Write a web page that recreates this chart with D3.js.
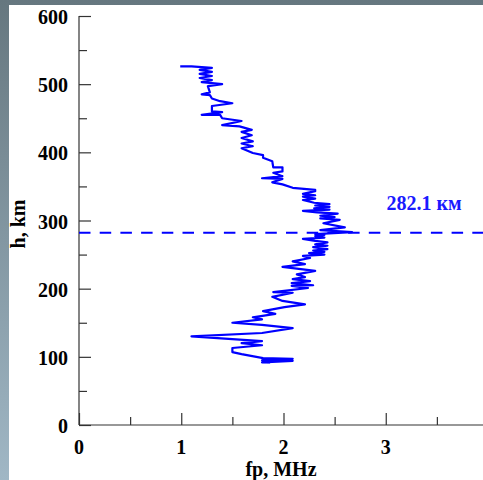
<!DOCTYPE html>
<html lang="en">
	<head>
		<meta charset="utf-8">
		<title>Plasma frequency profile</title>
		<script type="text/javascript" src="https://d3js.org/d3.v7.min.js"></script>
		<style>
			body { margin: 0; padding: 0; }
			svg { display: block; }
			text { font-family: "Liberation Serif", "Times New Roman", serif; font-weight: bold; }
		</style>
	</head>
	<body>
		<svg></svg>
		<script type="text/javascript">
			var width = 483;
			var height = 480;

			// Profile, bottom to top (fp in MHz, h in km)
			var fp = [1.87, 1.79, 2.09, 1.79, 2.09, 1.80, 1.59, 1.50, 1.50, 1.79,
				1.59, 1.79, 1.10, 1.79, 2.09, 1.79, 1.50, 1.79, 1.70, 1.92,
				1.80, 2.01, 2.21, 1.99, 1.89, 2.09, 1.90, 2.24, 2.08, 2.29,
				2.08, 2.26, 2.09, 2.21, 2.13, 2.31, 1.99, 2.21, 2.09, 2.26,
				2.19, 2.40, 2.25, 2.40, 2.29, 2.43, 2.29, 2.43, 2.31, 2.43,
				2.31, 2.19, 2.40, 2.31, 2.40, 2.31, 2.67,
				2.36, 2.60, 2.39, 2.55, 2.36, 2.50, 2.36, 2.53, 2.33, 2.19,
				2.45, 2.30, 2.45, 2.31, 2.45, 2.30, 2.19, 2.31, 2.19, 2.31,
				2.19, 2.31, 2.31, 2.09, 1.99, 1.89, 1.99, 1.79, 1.99,
				1.90, 1.99, 1.99, 1.90, 1.89, 1.80, 1.80, 1.70, 1.59, 1.70,
				1.59, 1.70, 1.59, 1.69, 1.59, 1.69, 1.57, 1.40, 1.59, 1.40,
				1.38, 1.20, 1.40, 1.30, 1.30, 1.50, 1.38, 1.30, 1.28, 1.20,
				1.28, 1.26, 1.40, 1.20, 1.30, 1.18, 1.30, 1.18, 1.30, 1.18,
				1.30, 1.10, 0.99];
			var h = [91, 92, 94, 95, 97, 98, 104, 107, 113, 117,
				120, 123, 130, 135, 142, 147, 150, 155, 158, 163,
				167, 173, 177, 182, 188, 194, 195, 201, 204, 205,
				208, 211, 214, 217, 221, 226, 232, 236, 240, 245,
				248, 250, 252, 254, 256, 258, 261, 263, 265, 268,
				270, 273, 275, 277, 279, 280, 283,
				286, 290, 296, 301, 303, 305, 307, 310, 312, 314,
				316, 318, 320, 322, 324, 326, 330, 332, 335, 337,
				339, 343, 345, 348, 353, 356, 361, 362, 365,
				370, 372, 378, 378, 387, 392, 396, 399, 406, 409,
				413, 416, 421, 425, 430, 433, 438, 440, 446, 450,
				455, 455, 459, 460, 468, 472, 475, 479, 484, 485,
				488, 497, 500, 503, 506, 509, 512, 515, 518, 521,
				524, 526, 526];

			// Peak height marker
			var peakHeight = 282.1;
			var peakLabel = "282.1 км";

			// Tick labels
			var xTicks = [0, 1, 2, 3, 4];
			var xMinor = [0.5, 1.5, 2.5, 3.5];
			var yTicks = [0, 100, 200, 300, 400, 500, 600];
			var yMinor = [50, 150, 250, 350, 450, 550];

			var svg = d3.select("svg")
				.attr("width", width)
				.attr("height", height);

			// Slate frame on the top and left edges
			var grad = svg.append("defs").append("linearGradient")
				.attr("id", "frame")
				.attr("x1", 0).attr("y1", 0)
				.attr("x2", 0).attr("y2", 1);
			grad.append("stop").attr("offset", "0%").attr("stop-color", "#66777f");
			grad.append("stop").attr("offset", "100%").attr("stop-color", "#a0b7c5");

			svg.append("rect")
				.attr("width", width)
				.attr("height", height)
				.attr("fill", "url(#frame)");
			svg.append("rect")
				.attr("x", 9)
				.attr("y", 5)
				.attr("width", width - 9)
				.attr("height", height - 5)
				.attr("fill", "#fff");

			var x = d3.scaleLinear().domain([0, 4]).range([79, 488]);
			var y = d3.scaleLinear().domain([0, 600]).range([425, 16]);

			// Axes: ticks point inside the plot
			svg.append("g")
				.attr("transform", "translate(0," + y(0) + ")")
				.call(d3.axisTop(x).tickValues(xTicks).tickSize(12).tickFormat(""));
			svg.append("g")
				.attr("transform", "translate(0," + y(0) + ")")
				.call(d3.axisTop(x).tickValues(xMinor).tickSize(8).tickFormat(""));

			svg.append("g")
				.attr("transform", "translate(" + x(0) + ",0)")
				.call(d3.axisRight(y).tickValues(yTicks).tickSize(12).tickFormat(""));
			svg.append("g")
				.attr("transform", "translate(" + x(0) + ",0)")
				.call(d3.axisRight(y).tickValues(yMinor).tickSize(8).tickFormat(""));

			svg.selectAll(".domain").remove();
			svg.selectAll(".tick line").attr("stroke", "#333").attr("stroke-width", 1.2);

			// Axis lines drawn plainly (no end caps)
			svg.append("line")
				.attr("x1", x(0)).attr("x2", width)
				.attr("y1", y(0)).attr("y2", y(0))
				.attr("stroke", "#333").attr("stroke-width", 1.2);
			svg.append("line")
				.attr("x1", x(0)).attr("x2", x(0))
				.attr("y1", y(0)).attr("y2", y(600))
				.attr("stroke", "#333").attr("stroke-width", 1.2);

			// Tick labels
			svg.selectAll(".xlab")
				.data(xTicks)
				.enter()
				.append("text")
				.attr("class", "xlab")
				.attr("x", function(d) { return x(d); })
				.attr("y", 454)
				.attr("text-anchor", "middle")
				.attr("font-size", 20)
				.text(function(d) { return d; });

			svg.selectAll(".ylab")
				.data(yTicks)
				.enter()
				.append("text")
				.attr("class", "ylab")
				.attr("x", 68)
				.attr("y", function(d) { return y(d) + 8; })
				.attr("text-anchor", "end")
				.attr("font-size", 20)
				.text(function(d) { return d; });

			// Axis titles
			svg.append("text")
				.attr("x", 281)
				.attr("y", 476)
				.attr("text-anchor", "middle")
				.attr("font-size", 20)
				.text("fp, MHz");
			svg.append("text")
				.attr("transform", "translate(25,224) rotate(-90)")
				.attr("text-anchor", "middle")
				.attr("font-size", 20)
				.text("h, km");

			// Peak height line and label
			svg.append("line")
				.attr("x1", x(0)).attr("x2", width)
				.attr("y1", y(peakHeight)).attr("y2", y(peakHeight))
				.attr("stroke", "#0000ff")
				.attr("stroke-width", 2)
				.attr("stroke-dasharray", "11.5,9.2");
			svg.append("text")
				.attr("x", 424)
				.attr("y", 210)
				.attr("text-anchor", "middle")
				.attr("font-size", 20)
				.attr("fill", "#1a1aff")
				.text(peakLabel);

			// The profile itself
			var line = d3.line()
				.x(function(d, i) { return x(fp[i]); })
				.y(function(d, i) { return y(h[i]); });

			svg.append("path")
				.datum(h)
				.attr("d", line)
				.attr("fill", "none")
				.attr("stroke", "#0000ff")
				.attr("stroke-width", 2.2)
				.attr("stroke-linejoin", "round");
		</script>
	</body>
</html>
